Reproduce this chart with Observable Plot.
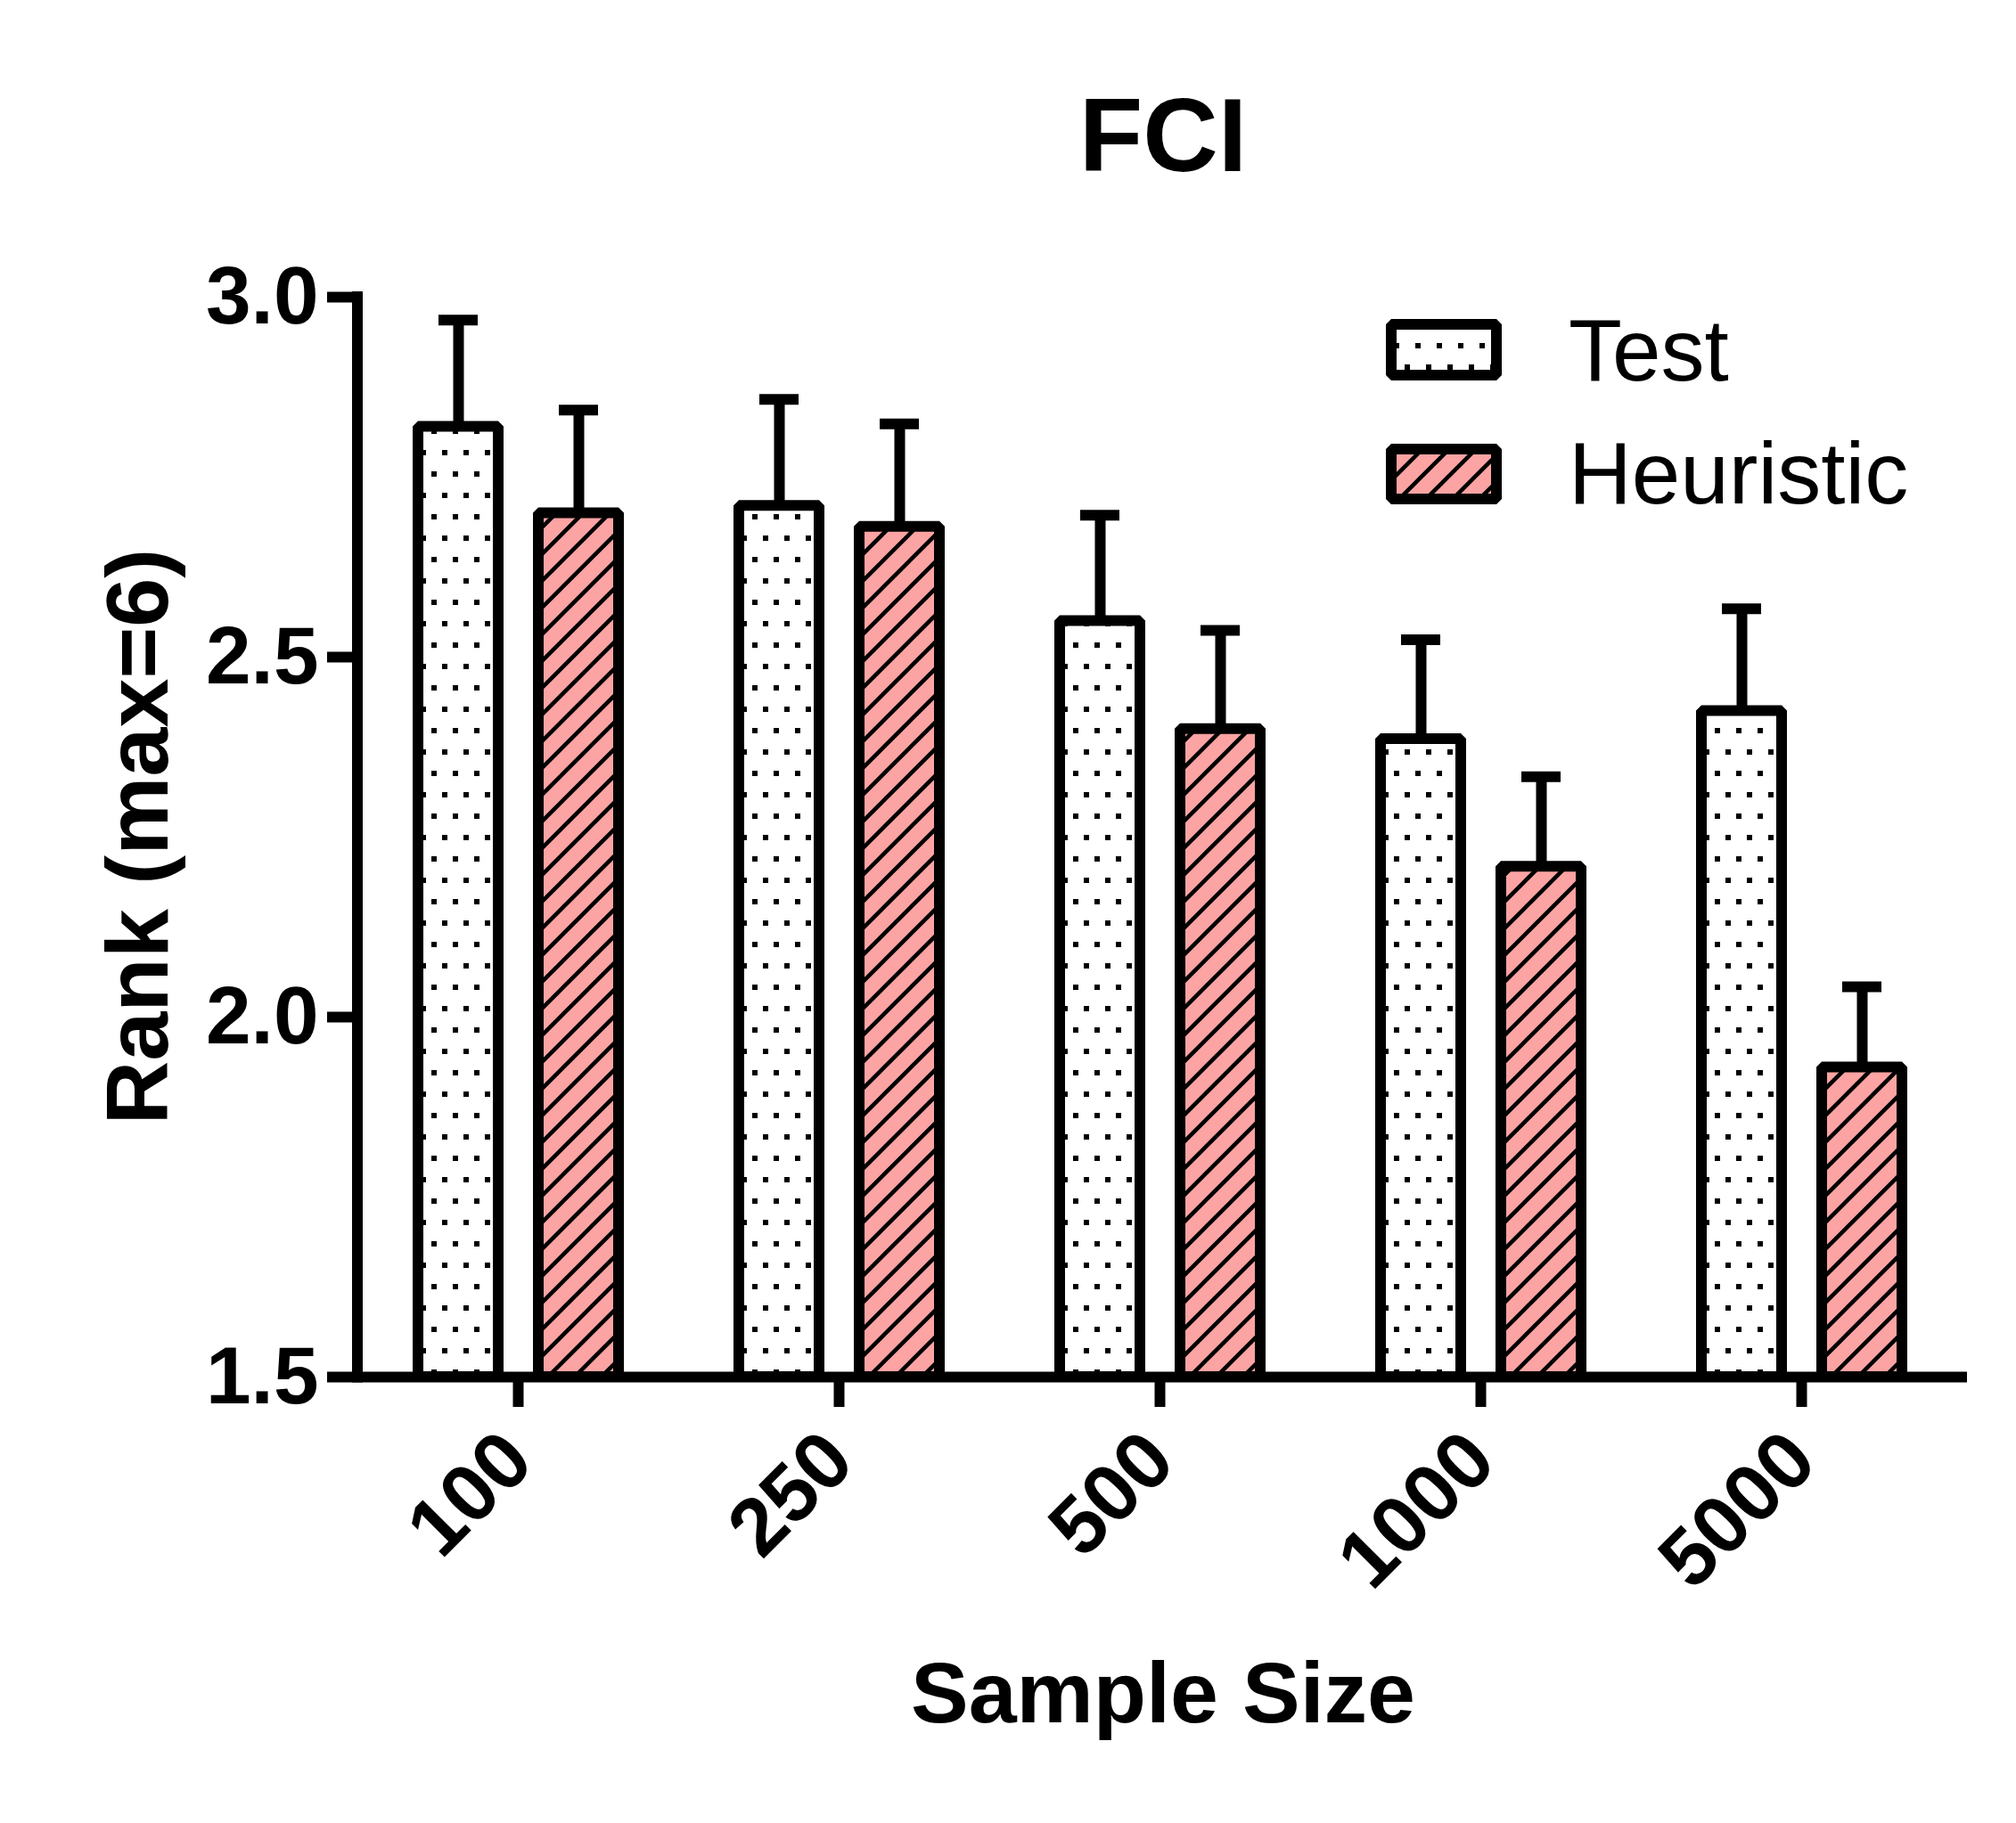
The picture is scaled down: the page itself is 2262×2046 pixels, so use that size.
<!DOCTYPE html>
<html>
<head>
<meta charset="utf-8">
<script src="https://cdn.jsdelivr.net/npm/d3@7"></script>
<script src="https://cdn.jsdelivr.net/npm/@observablehq/plot@0.6"></script>
<style>
html, body { margin: 0; padding: 0; background: #fff; }
#chart { position: relative; width: 2262px; height: 2046px; }
</style>
</head>
<body>
<div id="chart"></div>
<script>
// ---- data ----
const sizes = ["100", "250", "500", "1000", "5000"];
const seriesNames = ["Test", "Heuristic"];
const testMeans = [2.82, 2.71, 2.55, 2.386, 2.425];
const testUpper = [2.968, 2.858, 2.697, 2.524, 2.567];
const heurMeans = [2.70, 2.681, 2.40, 2.209, 1.93];
const heurUpper = [2.843, 2.824, 2.537, 2.334, 2.042];
const yTicks = [1.5, 2.0, 2.5, 3.0];
const titleText = "FCI";
const xLabel = "Sample Size";
const yLabel = "Rank (max=6)";

const test = sizes.map((s, i) => ({size: s, value: testMeans[i], upper: testUpper[i]}));
const heur = sizes.map((s, i) => ({size: s, value: heurMeans[i], upper: heurUpper[i]}));

const FONT = "'Liberation Sans', Arial, Helvetica, sans-serif";
const SW = 12;

const plot = Plot.plot({
  width: 2262,
  height: 2046,
  marginLeft: 401,
  marginRight: 61,
  marginTop: 333,
  marginBottom: 501,
  style: {fontFamily: FONT, fontSize: "91px", fontWeight: "bold", color: "black", background: "white"},
  x: {domain: sizes, padding: 0, label: null},
  y: {domain: [1.5, 3.0], label: null},
  marks: [
    Plot.ruleX(test, {x: "size", y1: "value", y2: "upper", dx: -67, stroke: "black", strokeWidth: SW}),
    Plot.ruleX(heur, {x: "size", y1: "value", y2: "upper", dx: 68, stroke: "black", strokeWidth: SW}),
    Plot.tickY(test, {x: "size", y: "upper", insetLeft: 91, insetRight: 225, stroke: "black", strokeWidth: SW}),
    Plot.tickY(heur, {x: "size", y: "upper", insetLeft: 226, insetRight: 90, stroke: "black", strokeWidth: SW}),
    Plot.barY(test, {x: "size", y1: 1.5, y2: "value", insetLeft: 68, insetRight: 202,
      fill: "url(#dotsPat)", stroke: "black", strokeWidth: SW, strokeLinejoin: "bevel"}),
    Plot.barY(heur, {x: "size", y1: 1.5, y2: "value", insetLeft: 203, insetRight: 67,
      fill: "url(#hatchPat)", stroke: "black", strokeWidth: SW, strokeLinejoin: "bevel"}),
    Plot.axisY({ticks: yTicks, tickFormat: d3.format(".1f"), tickSize: 28, tickPadding: 16,
      strokeWidth: SW, strokeLinecap: "square", fontSize: 91, fontWeight: "bold", label: null}),
    Plot.axisX({tickSize: 34, tickPadding: 44, tickRotate: -45, strokeWidth: SW,
      fontSize: 91, fontWeight: "bold", label: null}),
    Plot.ruleY([1.5], {stroke: "black", strokeWidth: SW, strokeLinecap: "square"})
  ]
});

document.getElementById("chart").appendChild(plot);

const svg = d3.select(plot);
const defs = svg.insert("defs", ":first-child");
const dots = defs.append("pattern").attr("id", "dotsPat")
  .attr("patternUnits", "userSpaceOnUse").attr("width", 24).attr("height", 48);
dots.append("rect").attr("width", 24).attr("height", 48).attr("fill", "white");
dots.append("rect").attr("x", 16).attr("y", 25).attr("width", 6).attr("height", 6).attr("fill", "black");
dots.append("rect").attr("x", 4).attr("y", 1).attr("width", 6).attr("height", 6).attr("fill", "black");

const hatch = defs.append("pattern").attr("id", "hatchPat")
  .attr("patternUnits", "userSpaceOnUse").attr("width", 30).attr("height", 30);
hatch.append("rect").attr("width", 30).attr("height", 30).attr("fill", "#FCA3A3");
hatch.append("path").attr("d", "M-7.5,7.5L7.5,-7.5M0,30L30,0M22.5,37.5L37.5,22.5")
  .attr("stroke", "black").attr("stroke-width", 4.5);

// y-axis line using the plot's own scales
const xr = plot.scale("x").range;
const yr = plot.scale("y").range;
svg.append("line")
  .attr("x1", xr[0]).attr("x2", xr[0])
  .attr("y1", yr[1]).attr("y2", yr[0])
  .attr("stroke", "black").attr("stroke-width", SW).attr("stroke-linecap", "square");

const cx = (xr[0] + xr[1]) / 2;
const cy = (yr[0] + yr[1]) / 2;

// title
svg.append("text").text(titleText)
  .attr("x", cx + 4).attr("y", 192)
  .attr("text-anchor", "middle")
  .style("font-family", FONT).style("font-size", "117px").style("font-weight", "bold");

// x label
svg.append("text").text(xLabel)
  .attr("x", cx + 4).attr("y", 1933)
  .attr("text-anchor", "middle")
  .style("font-family", FONT).style("font-size", "97px").style("font-weight", "bold");

// y label
svg.append("text").text(yLabel)
  .attr("transform", `translate(188,${cy}) rotate(-90)`)
  .attr("text-anchor", "middle")
  .style("font-family", FONT).style("font-size", "99px").style("font-weight", "bold");

// legend
const legend = svg.append("g");
const legendItems = [
  {name: seriesNames[0], fill: "url(#dotsPat)", y: 364, h: 57, ty: 427},
  {name: seriesNames[1], fill: "url(#hatchPat)", y: 504, h: 56, ty: 565}
];
legendItems.forEach(it => {
  legend.append("rect")
    .attr("x", 1561).attr("y", it.y).attr("width", 118).attr("height", it.h)
    .attr("fill", it.fill).attr("stroke", "black").attr("stroke-width", SW)
    .attr("stroke-linejoin", "bevel");
  legend.append("text").text(it.name)
    .attr("x", 1760).attr("y", it.ty)
    .attr("text-anchor", "start")
    .style("font-family", FONT).style("font-size", "98px").style("font-weight", "normal");
});
</script>
</body>
</html>
